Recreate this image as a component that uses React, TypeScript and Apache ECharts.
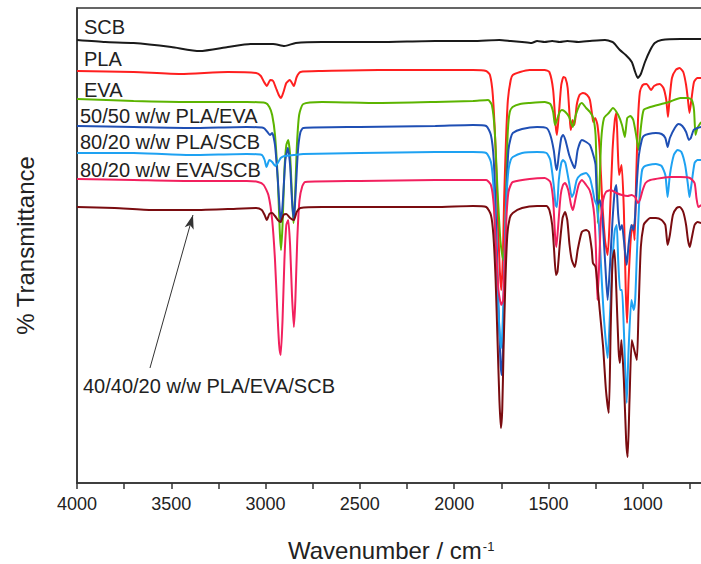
import React, { useEffect, useRef } from "react";
import * as echarts from "echarts";

// x: wavenumber (cm-1), y: transmittance (arbitrary units, offset spectra)
const scb: number[][] = [
  [4000, 443], [3850, 441], [3700, 440], [3500, 436], [3350, 432], [3200, 436], [3080, 439], [2960, 439],
  [2900, 437], [2840, 440], [2700, 441], [2400, 441], [2100, 442], [1900, 442], [1760, 443], [1700, 442],
  [1640, 441], [1590, 440], [1560, 442], [1520, 441], [1480, 442], [1440, 441], [1400, 442], [1340, 441],
  [1280, 442], [1200, 443], [1160, 441], [1148, 439], [1121, 433], [1090, 428], [1058, 421], [1040, 411],
  [1026, 405], [1010, 409], [988, 421], [960, 433], [936, 440], [900, 443], [800, 444], [690, 444],
];

const pla: number[][] = [
  [4000, 412], [3700, 411], [3450, 409], [3200, 411], [3050, 410], [3025, 407], [3008, 401], [2993, 397],
  [2975, 403], [2960, 402], [2945, 395], [2930, 388], [2918, 385], [2905, 391], [2890, 400], [2871, 403],
  [2860, 400], [2850, 397], [2835, 406], [2815, 411], [2700, 412], [2400, 413], [2100, 413], [1900, 413],
  [1830, 412], [1810, 408], [1795, 388], [1780, 333], [1768, 263], [1758, 213], [1750, 193], [1742, 223],
  [1735, 283], [1725, 343], [1715, 383], [1700, 403], [1689, 408], [1650, 411], [1600, 413], [1520, 413],
  [1495, 411], [1475, 393], [1462, 358], [1455, 348], [1445, 368], [1432, 398], [1420, 406], [1410, 405],
  [1398, 395], [1388, 368], [1382, 353], [1372, 363], [1362, 358], [1350, 378], [1335, 388], [1317, 390],
  [1295, 388], [1280, 383], [1268, 368], [1262, 361], [1252, 365], [1240, 358], [1228, 333], [1215, 283],
  [1200, 243], [1186, 228], [1174, 268], [1160, 333], [1148, 363], [1140, 370], [1132, 333], [1125, 308],
  [1112, 318], [1100, 273], [1090, 193], [1083, 160], [1075, 203], [1062, 248], [1050, 258], [1043, 243],
  [1035, 303], [1025, 363], [1015, 391], [1000, 398], [980, 399], [955, 393], [940, 397], [910, 399],
  [890, 395], [875, 383], [866, 366], [858, 383], [845, 405], [825, 413], [805, 415], [785, 411],
  [770, 398], [760, 383], [752, 370], [742, 383], [728, 401], [710, 405], [690, 405],
];

const eva: number[][] = [
  [4000, 384], [3700, 382], [3400, 381], [3100, 381], [3000, 380], [2980, 376], [2965, 368], [2950, 348],
  [2935, 303], [2925, 253], [2918, 233], [2910, 258], [2900, 313], [2890, 338], [2880, 343], [2870, 328],
  [2860, 288], [2852, 260], [2845, 278], [2835, 333], [2822, 368], [2800, 379], [2700, 381], [2400, 380],
  [2100, 381], [1900, 382], [1820, 383], [1800, 378], [1785, 353], [1770, 293], [1755, 243], [1745, 228],
  [1738, 223], [1730, 243], [1722, 313], [1715, 353], [1705, 371], [1690, 376], [1650, 379], [1600, 380],
  [1520, 381], [1490, 379], [1475, 371], [1465, 358], [1455, 363], [1440, 371], [1428, 373], [1410, 371],
  [1390, 366], [1371, 356], [1355, 368], [1335, 378], [1323, 380], [1300, 375], [1280, 371], [1262, 365],
  [1250, 348], [1244, 308], [1238, 260], [1230, 293], [1220, 343], [1205, 365], [1180, 370], [1158, 375],
  [1130, 368], [1110, 358], [1095, 346], [1082, 365], [1065, 367], [1050, 363], [1035, 348], [1022, 333],
  [1010, 355], [995, 373], [960, 376], [900, 379], [860, 381], [800, 385], [760, 385], [740, 383],
  [728, 373], [720, 348], [710, 355], [690, 361],
];

const plaEva: number[][] = [
  [4000, 357], [3700, 356], [3400, 355], [3100, 356], [3010, 355], [2990, 351], [2977, 348], [2965, 350],
  [2950, 338], [2935, 303], [2925, 273], [2918, 261], [2908, 283], [2895, 323], [2882, 335], [2870, 318],
  [2860, 283], [2850, 263], [2840, 293], [2828, 333], [2815, 351], [2800, 355], [2500, 356], [2100, 357],
  [1900, 358], [1830, 357], [1805, 348], [1790, 323], [1778, 263], [1766, 183], [1755, 123], [1748, 108],
  [1740, 143], [1732, 213], [1722, 293], [1712, 333], [1700, 345], [1689, 350], [1640, 354], [1560, 356],
  [1510, 355], [1490, 348], [1472, 333], [1462, 318], [1455, 313], [1445, 328], [1432, 345], [1423, 348],
  [1410, 343], [1390, 328], [1370, 318], [1360, 315], [1345, 333], [1323, 343], [1300, 341], [1280, 338],
  [1262, 328], [1250, 318], [1240, 278], [1228, 283], [1215, 268], [1200, 223], [1186, 183], [1175, 213],
  [1160, 263], [1148, 293], [1140, 298], [1130, 268], [1120, 253], [1110, 258], [1100, 243], [1085, 218],
  [1075, 238], [1060, 258], [1048, 253], [1040, 268], [1030, 303], [1020, 328], [1005, 343], [995, 347],
  [970, 349], [930, 350], [900, 349], [880, 345], [868, 336], [856, 345], [830, 355], [810, 359],
  [790, 357], [770, 351], [755, 343], [745, 345], [730, 353], [710, 355], [690, 356],
];

const plaScb: number[][] = [
  [4000, 330], [3700, 330], [3400, 328], [3100, 329], [3020, 328], [3005, 323], [2995, 316], [2980, 323],
  [2965, 321], [2948, 317], [2935, 320], [2920, 325], [2900, 327], [2850, 328], [2800, 329], [2500, 330],
  [2100, 331], [1900, 331], [1830, 330], [1805, 321], [1792, 298], [1780, 243], [1768, 183], [1756, 143],
  [1750, 135], [1742, 163], [1733, 223], [1723, 283], [1712, 313], [1700, 323], [1689, 326], [1640, 330],
  [1560, 331], [1510, 330], [1490, 323], [1472, 298], [1462, 278], [1455, 276], [1445, 303], [1432, 320],
  [1423, 323], [1410, 320], [1390, 300], [1376, 286], [1365, 290], [1350, 303], [1330, 308], [1300, 310],
  [1280, 305], [1265, 293], [1255, 283], [1244, 278], [1232, 258], [1220, 213], [1205, 163], [1186, 125],
  [1175, 163], [1160, 223], [1148, 253], [1138, 258], [1130, 223], [1120, 193], [1110, 193], [1100, 153],
  [1085, 80], [1075, 133], [1060, 183], [1048, 173], [1040, 183], [1030, 233], [1018, 283], [1005, 311],
  [995, 316], [970, 318], [930, 319], [900, 317], [880, 308], [868, 286], [856, 308], [835, 328],
  [815, 333], [795, 331], [775, 318], [760, 298], [752, 286], [742, 298], [725, 320], [710, 323], [690, 323],
];

const evaScb: number[][] = [
  [4000, 304], [3700, 303], [3400, 302], [3100, 302], [3040, 301], [3010, 298], [2985, 288], [2965, 263],
  [2950, 223], [2938, 173], [2928, 138], [2920, 128], [2910, 163], [2900, 223], [2890, 258], [2880, 263],
  [2870, 238], [2860, 188], [2850, 156], [2842, 183], [2832, 243], [2820, 283], [2805, 297], [2790, 301],
  [2500, 302], [2100, 303], [1900, 303], [1830, 303], [1805, 298], [1790, 278], [1778, 233], [1765, 193],
  [1750, 178], [1740, 183], [1732, 218], [1722, 268], [1712, 291], [1700, 298], [1689, 301], [1600, 304],
  [1520, 305], [1490, 301], [1475, 283], [1465, 248], [1458, 236], [1448, 258], [1435, 288], [1423, 298],
  [1412, 300], [1395, 293], [1380, 278], [1370, 273], [1358, 283], [1340, 298], [1323, 303], [1300, 298],
  [1282, 293], [1268, 283], [1256, 266], [1248, 233], [1240, 183], [1232, 213], [1222, 263], [1210, 283],
  [1195, 291], [1170, 293], [1140, 290], [1110, 288], [1080, 287], [1060, 288], [1040, 286], [1025, 280],
  [1015, 283], [1000, 293], [985, 300], [960, 303], [900, 305], [850, 306], [800, 306], [750, 305],
  [725, 300], [715, 285], [705, 276], [690, 278],
];

const plaEvaScb: number[][] = [
  [4000, 276], [3800, 275], [3600, 273], [3400, 273], [3200, 274], [3050, 275], [3020, 273], [3005, 268],
  [2993, 263], [2980, 269], [2965, 270], [2950, 267], [2935, 263], [2920, 261], [2905, 268], [2890, 269],
  [2870, 265], [2850, 263], [2835, 271], [2815, 275], [2700, 276], [2400, 276], [2100, 276], [1900, 277],
  [1830, 276], [1805, 268], [1792, 248], [1780, 203], [1770, 143], [1760, 83], [1752, 55], [1745, 73],
  [1738, 133], [1728, 203], [1718, 248], [1705, 265], [1689, 270], [1640, 275], [1560, 277], [1510, 277],
  [1495, 273], [1480, 258], [1470, 233], [1460, 208], [1452, 211], [1440, 238], [1425, 265], [1412, 271],
  [1400, 263], [1388, 238], [1376, 223], [1360, 216], [1345, 233], [1323, 251], [1300, 253], [1285, 251],
  [1270, 233], [1264, 220], [1250, 216], [1240, 198], [1228, 173], [1210, 136], [1195, 93], [1180, 70],
  [1170, 153], [1160, 223], [1150, 233], [1140, 193], [1128, 133], [1121, 120], [1113, 143], [1100, 103],
  [1088, 43], [1080, 26], [1070, 83], [1058, 143], [1045, 133], [1031, 123], [1022, 173], [1010, 236],
  [995, 258], [985, 261], [960, 265], [930, 265], [900, 263], [880, 258], [868, 238], [856, 248],
  [840, 268], [820, 275], [803, 276], [785, 271], [770, 258], [760, 243], [750, 236], [740, 245],
  [725, 258], [710, 261], [690, 260],
];

const seriesNames = [
  "SCB",
  "PLA",
  "EVA",
  "50/50 w/w PLA/EVA",
  "80/20 w/w PLA/SCB",
  "80/20 w/w EVA/SCB",
  "40/40/20 w/w PLA/EVA/SCB",
];
const seriesData = [scb, pla, eva, plaEva, plaScb, evaScb, plaEvaScb];
const seriesColors = ["#1a1a1a", "#ff1f1f", "#5cb400", "#1f4fb4", "#1ea2f2", "#f2205e", "#7a0c10"];

// tick labels shown inside the visible window
const tickLabels = [4000, 3500, 3000, 2500, 2000, 1500, 1000];

// arrow annotation (data coords): from label towards the 40/40/20 spectrum
const arrowFrom = [3613, 115];
const arrowTo = [3385, 268];

const FONT = "'Liberation Sans', Arial, Helvetica, sans-serif";

export default function App() {
  const ref = useRef<HTMLDivElement>(null);
  useEffect(() => {
    if (!ref.current) return;
    const chart = echarts.init(ref.current, null, { renderer: "svg" });
    const labelPos: [number, number][] = [
      [84, 27], [84, 59], [84, 90], [80, 116], [80, 142], [80, 170], [83, 386],
    ];
    const option: any = {
      animation: false,
      backgroundColor: "#ffffff",
      grid: {
        left: 77, top: 8, width: 660, height: 475, show: true, borderColor: "#333", borderWidth: 1.5,
        containLabel: false, outerBoundsMode: "none",
      },
      xAxis: {
        type: "value",
        min: 500,
        max: 4000,
        interval: 500,
        inverse: true,
        axisLine: { show: true, lineStyle: { color: "#333", width: 1.5 } },
        axisTick: { show: true, inside: false, length: 6, lineStyle: { color: "#333", width: 1.5 } },
        minorTick: { show: true, splitNumber: 2, length: 6, lineStyle: { color: "#333", width: 1.5 } },
        splitLine: { show: false },
        axisLabel: {
          fontSize: 18, color: "#222", margin: 12, fontFamily: FONT,
          formatter: (v: number) => (tickLabels.indexOf(v) >= 0 ? String(v) : ""),
        },
      },
      yAxis: {
        type: "value",
        min: 0,
        max: 475,
        axisLine: { show: true, lineStyle: { color: "#333", width: 1.5 } },
        axisTick: { show: false },
        axisLabel: { show: false },
        splitLine: { show: false },
        name: "% Transmittance",
        nameLocation: "middle",
        nameGap: 40,
        nameTextStyle: { fontSize: 24, color: "#222", fontFamily: FONT },
      },
      series: seriesData.map((d, i) => ({
        name: seriesNames[i],
        type: "line",
        data: d,
        showSymbol: false,
        smooth: 0.2,
        lineStyle: { color: seriesColors[i], width: 2 },
        itemStyle: { color: seriesColors[i] },
        z: 2 + i,
        markLine:
          i === seriesData.length - 1
            ? {
                silent: true,
                symbol: ["none", "arrow"],
                symbolSize: [7, 14],
                label: { show: false },
                lineStyle: { color: "#333", width: 1, type: "solid" },
                data: [[{ coord: arrowFrom }, { coord: arrowTo }]],
              }
            : undefined,
      })),
      graphic: [
        ...seriesNames.map((n, i) => ({
          type: "text",
          x: labelPos[i][0],
          y: labelPos[i][1],
          z: 100,
          style: {
            text: n,
            fontSize: 20,
            fontFamily: FONT,
            fill: "#222",
            verticalAlign: "middle",
            align: "left",
          },
        })),
        {
          type: "text",
          x: 288,
          y: 551,
          style: {
            text: "{a|Wavenumber / cm}{b|-1}",
            fontFamily: FONT,
            fill: "#222",
            verticalAlign: "middle",
            rich: {
              a: { fontSize: 24, fontFamily: FONT, fill: "#222", verticalAlign: "bottom", lineHeight: 22 },
              b: { fontSize: 13, fontFamily: FONT, fill: "#222", verticalAlign: "top", lineHeight: 22, padding: [0, 0, 0, 1] },
            },
          },
        },
      ],
    };
    chart.setOption(option);
    return () => chart.dispose();
  }, []);
  return <div ref={ref} style={{ position: "absolute", left: 0, top: 0, width: 701, height: 564 }} />;
}
